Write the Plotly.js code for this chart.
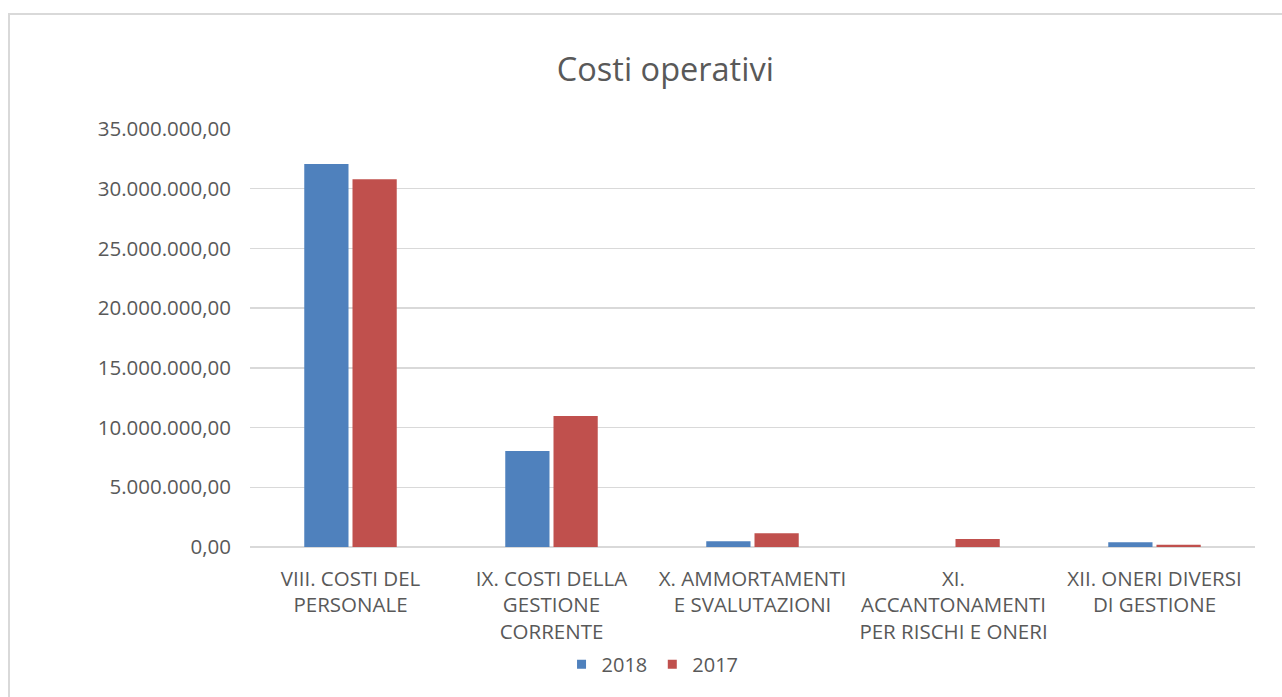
<!DOCTYPE html>
<html>
<head>
<meta charset="utf-8">
<script src="https://cdn.plot.ly/plotly-3.0.1.min.js"></script>
<style>
  html, body { margin: 0; padding: 0; background: #ffffff; overflow: hidden; }
  #frame { position: absolute; left: 8px; top: 13px; width: 1300px; height: 720px; border: 2px solid #d9d9d9; box-sizing: border-box; }
  #chart { position: absolute; left: 0; top: 0; width: 1282px; height: 697px; }
</style>
</head>
<body>
<div id="frame"></div>
<div id="chart"></div>
<script>
const categories = [
  "VIII. COSTI DEL<br>PERSONALE",
  "IX. COSTI DELLA<br>GESTIONE<br>CORRENTE",
  "X. AMMORTAMENTI<br>E SVALUTAZIONI",
  "XI.<br>ACCANTONAMENTI<br>PER RISCHI E ONERI",
  "XII. ONERI DIVERSI<br>DI GESTIONE"
];
const values2018 = [32070000, 8040000, 480000, 0, 390000];
const values2017 = [30790000, 10970000, 1150000, 670000, 190000];
const seriesNames = ["2018", "2017"];
const seriesColors = ["#4F81BD", "#C0504D"];

const textColor = "#595959";
const fontFam = "'Open Sans', 'Noto Sans', sans-serif";

const data = [
  { type: "bar", name: seriesNames[0], x: categories, y: values2018, marker: { color: seriesColors[0] }, hoverinfo: "skip", showlegend: false },
  { type: "bar", name: seriesNames[1], x: categories, y: values2017, marker: { color: seriesColors[1] }, hoverinfo: "skip", showlegend: false },
  // legend entries (small square keys)
  { type: "scatter", mode: "markers", name: seriesNames[0], x: [null], y: [null], marker: { color: seriesColors[0], symbol: "square", size: 9 }, hoverinfo: "skip" },
  { type: "scatter", mode: "markers", name: seriesNames[1], x: [null], y: [null], marker: { color: seriesColors[1], symbol: "square", size: 9 }, hoverinfo: "skip" }
];

const layout = {
  width: 1282, height: 697,
  paper_bgcolor: "rgba(0,0,0,0)",
  plot_bgcolor: "rgba(0,0,0,0)",
  separators: ",.",
  margin: { l: 250, r: 27, t: 129, b: 150, pad: 0 },
  font: { family: fontFam, color: textColor, size: 21 },
  title: {
    text: "Costi operativi",
    font: { family: fontFam, size: 32.5, color: textColor },
    xref: "container", yref: "container",
    x: 0.519, xanchor: "center",
    y: 0.9, yanchor: "middle"
  },
  barmode: "group",
  bargap: 0.52,
  bargroupgap: 0.083,
  xaxis: {
    type: "category",
    tickfont: { size: 20.5, color: textColor },
    showgrid: false,
    showline: false,
    ticks: "",
    ticklabelstandoff: 17,
    zeroline: false
  },
  yaxis: {
    range: [0, 35000000],
    dtick: 5000000,
    tick0: 0,
    tickformat: ",.2f",
    tickfont: { size: 20.5, color: textColor },
    gridcolor: "#d9d9d9",
    gridwidth: 1.5,
    zeroline: true,
    zerolinecolor: "#d9d9d9",
    zerolinewidth: 2,
    showline: false,
    ticks: "",
    ticklabelstandoff: 18
  },
  showlegend: true,
  legend: {
    orientation: "h",
    xref: "container", yref: "container",
    x: 0.509, xanchor: "center",
    y: 0.047, yanchor: "middle",
    font: { size: 20, color: textColor },
    itemwidth: 30,
    traceorder: "normal"
  }
};

Plotly.newPlot("chart", data, layout, { displayModeBar: false, staticPlot: true });
</script>
</body>
</html>
